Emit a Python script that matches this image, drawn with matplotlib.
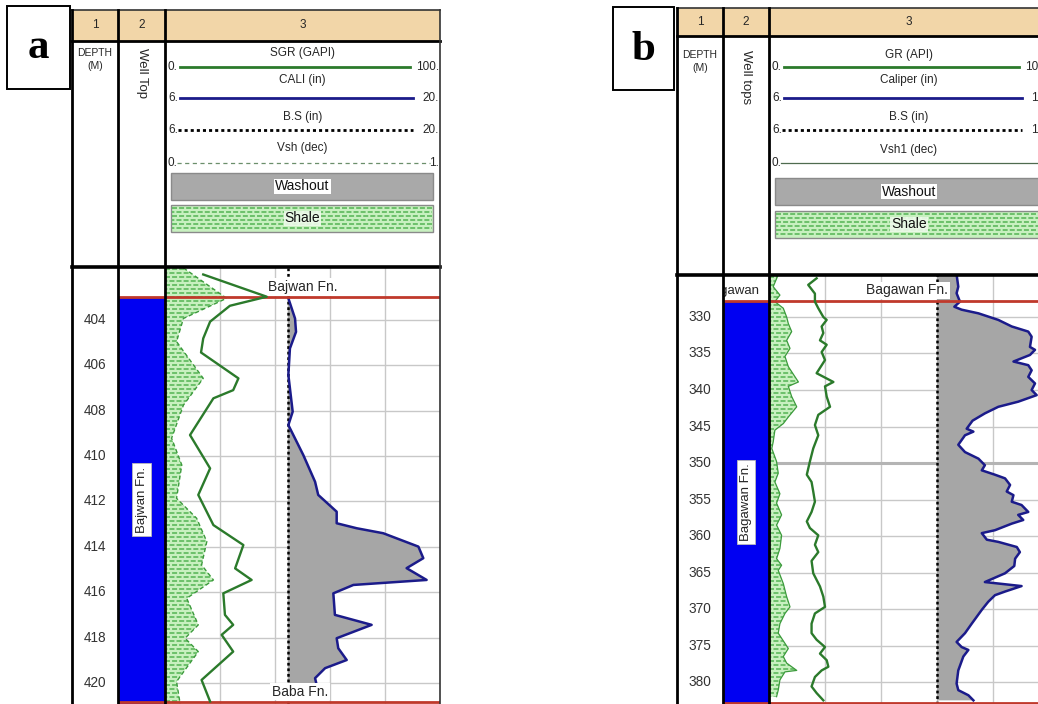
import matplotlib
matplotlib.use("Agg")
import matplotlib.pyplot as plt
from matplotlib.patches import Rectangle
import numpy as np

plt.rcParams['font.family'] = ['Liberation Sans', 'DejaVu Sans']
plt.rcParams['lines.scale_dashes'] = False

# ---------------- well a : Bajwan Fn. ----------------
a_depth_ticks = [404, 406, 408, 410, 412, 414, 416, 418, 420]
a_top_names = ["Bajwan Fn.", "Baba Fn."]
a_top_depths = [403.0, 420.85]
a_bit_size = 12.25

a_gr_depth = [401.99, 402.97, 403.37, 404.07, 404.81, 405.43, 406.57, 407.09, 407.45,
              409.07, 410.54, 411.71, 413.04, 413.92, 414.95, 415.46, 416.05, 417.0,
              417.44, 417.88, 418.62, 419.87, 420.82]
a_gr = [13.9, 37.0, 23.6, 16.4, 13.9, 13.1, 26.7, 24.8, 17.6, 9.1, 16.4, 12.1, 17.6,
        28.5, 25.5, 31.5, 21.2, 21.8, 24.8, 20.6, 24.8, 13.3, 16.4]

a_vsh_depth = [401.7, 403.04, 403.93, 404.95, 406.57, 407.75, 409.21, 410.39, 411.86,
               412.74, 413.77, 414.80, 415.46, 416.27, 417.44, 418.03, 418.62, 419.94,
               420.92]
a_vsh = [0.067, 0.224, 0.067, 0.042, 0.139, 0.067, 0.024, 0.061, 0.042, 0.115, 0.152,
         0.133, 0.176, 0.079, 0.121, 0.073, 0.121, 0.042, 0.055]

a_cal_depth = [403.04, 403.93, 404.52, 405.25, 406.42, 408.04, 408.63, 409.95, 411.13,
               411.71, 412.45, 412.96, 413.18, 413.40, 413.99, 414.50, 414.94, 415.46,
               415.68, 416.05, 417.0, 417.44, 418.03, 418.47, 418.99, 419.35, 419.79,
               420.09]
a_cal = [12.28, 12.62, 12.67, 12.36, 12.28, 12.50, 12.28, 13.04, 13.64, 13.80, 14.74,
         14.74, 15.76, 17.11, 18.90, 19.15, 18.30, 19.32, 15.59, 14.57, 14.65, 16.52,
         14.74, 14.82, 15.25, 14.15, 13.64, 13.72]

# ---------------- well b : Bagawan Fn. ----------------
b_depth_ticks = [330, 335, 340, 345, 350, 355, 360, 365, 370, 375, 380]
b_top_names = ["Bagawan Fn.", ""]
b_top_depths = [327.8, 382.9]
b_bit_size = 12.0

b_gr_depth = [324.7, 325.6, 326.8, 327.9, 328.8, 330.0, 330.4, 331.3, 332.2, 333.2,
              333.8, 334.8, 335.9, 337.7, 338.9, 339.5, 340.9, 342.3, 343.4, 344.8,
              346.2, 348.0, 349.8, 351.6, 352.6, 353.9, 355.3, 356.7, 358.0, 358.9,
              359.9, 361.2, 362.2, 363.4, 365.1, 366.9, 368.3, 369.7, 370.6, 372.0,
              373.3, 374.2, 375.2, 376.1, 377.0, 377.9, 378.4, 379.3, 380.6, 381.5,
              382.5]
b_gr = [17.0, 14.0, 16.4, 16.4, 17.6, 19.4, 20.6, 18.8, 19.4, 18.2, 20.6, 18.8, 20.0,
        17.0, 23.0, 20.0, 20.6, 21.8, 17.6, 16.4, 17.6, 15.8, 14.6, 13.5, 15.2, 15.8,
        16.4, 15.2, 13.5, 14.6, 17.6, 16.4, 17.6, 15.2, 15.8, 18.2, 19.4, 20.0, 16.4,
        15.2, 15.2, 17.0, 20.0, 18.2, 20.6, 21.2, 18.8, 16.4, 15.2, 17.0, 19.4]

b_vsh_depth = [324.2, 325.85, 327.0, 327.9, 328.8, 330.0, 330.9, 332.0, 333.2, 334.3,
               335.4, 336.8, 338.9, 339.5, 340.9, 342.3, 343.7, 344.6, 345.5, 347.1,
               348.0, 349.8, 351.4, 352.6, 354.2, 355.5, 357.1, 358.5, 359.9, 361.7,
               363.1, 364.0, 364.7, 366.5, 368.3, 369.7, 370.6, 372.0, 373.3, 375.4,
               376.5, 377.4, 378.4, 378.6, 379.7, 381.1, 382.0]
b_vsh = [0.033, 0.015, 0.039, 0.021, 0.051, 0.063, 0.069, 0.081, 0.063, 0.075, 0.057,
         0.069, 0.105, 0.069, 0.081, 0.099, 0.069, 0.051, 0.021, 0.015, 0.010, 0.027,
         0.033, 0.021, 0.039, 0.027, 0.045, 0.027, 0.045, 0.039, 0.027, 0.045, 0.033,
         0.051, 0.063, 0.075, 0.057, 0.039, 0.033, 0.069, 0.051, 0.063, 0.099, 0.057,
         0.039, 0.033, 0.027]

b_cal_depth = [324.2, 325.85, 326.75, 327.9, 328.6, 329.0, 329.5, 330.4, 331.3, 332.0,
               332.7, 334.1, 334.5, 335.2, 336.1, 336.6, 337.3, 338.2, 339.1, 340.0,
               340.7, 341.6, 342.3, 343.2, 344.2, 345.3, 345.7, 346.2, 347.5, 348.5,
               349.4, 350.3, 351.0, 351.6, 352.1, 353.0, 353.9, 354.4, 355.3, 355.75,
               356.7, 357.1, 357.8, 358.3, 359.2, 359.6, 360.5, 360.8, 361.5, 362.2,
               363.1, 364.1, 365.1, 366.3, 366.5, 366.85, 367.6, 368.1, 369.0, 370.1,
               372.0, 373.3, 374.5, 375.2, 375.6, 376.5, 378.4, 380.2, 381.1, 381.8,
               382.5]
b_cal = [12.70, 12.76, 12.70, 12.82, 12.62, 12.88, 13.48, 14.19, 14.67, 15.26, 15.38,
         15.32, 15.50, 15.32, 14.73, 15.26, 15.38, 15.26, 15.50, 15.38, 15.56, 14.90,
         14.19, 13.71, 13.27, 13.06, 13.30, 13.00, 12.76, 13.00, 13.48, 13.71, 13.60,
         14.07, 14.43, 14.61, 14.49, 14.73, 14.67, 15.02, 15.26, 14.90, 15.08, 14.67,
         14.07, 13.60, 13.78, 14.19, 14.85, 14.96, 14.79, 14.76, 14.43, 13.71, 14.19,
         15.02, 14.43, 14.07, 13.83, 13.60, 13.24, 13.00, 12.70, 12.88, 13.12, 12.94,
         12.76, 12.70, 12.76, 13.12, 13.30]

# ---------------- styling ----------------
TAN = '#f2d6a8'
GR_COL = '#2b7a2b'
CAL_COL = '#1b1b8a'
WASH_GREY = '#a9a9a9'
SHALE_BG = '#c8f0c0'
SHALE_DASH = '#5cb85c'
TOP_BLUE = '#0000f2'
TOP_RED = '#c0392b'
GRID = '#c8c8c8'
HDR_FONT = ['Liberation Sans', 'DejaVu Sans']
TXT = '#262626'

W, H = 1038, 704
fig = plt.figure(figsize=(W / 100, H / 100), dpi=100)

ov = fig.add_axes([0, 0, 1, 1], zorder=20)
ov.set_xlim(0, W)
ov.set_ylim(H, 0)
ov.axis('off')


def px_rect(x0, y0, x1, y1):
    return [x0 / W, 1 - y1 / H, (x1 - x0) / W, (y1 - y0) / H]


def bare_axes(rect, zorder, sharey=None):
    ax = fig.add_axes(rect, zorder=zorder, sharey=sharey)
    ax.patch.set_visible(False)
    for s in ax.spines.values():
        s.set_visible(False)
    ax.tick_params(left=False, bottom=False, labelleft=False, labelbottom=False)
    return ax


def shale_rows(ax, x0, x1, y_top, y_bot, step, clip=None):
    """Brick-like rows of short dashes used for the shale fill."""
    for i, y in enumerate(np.arange(y_top + step / 2, y_bot, step)):
        ln, = ax.plot([x0, x1], [y, y], color=SHALE_DASH, lw=1.2,
                      solid_capstyle='butt',
                      linestyle=((1.9 if i % 2 else 0.0), (3.6, 1.5)))
        if clip is not None:
            ln.set_clip_path(*clip)


def header(L):
    x0, c1, c2, x1 = L['x0'], L['c1'], L['c2'], L['x1']
    top, tan, hbot, lbot = L['top'], L['tan'], L['hbot'], L['lbot']
    # panel letter
    bx0, by0, bx1, by1 = L['box']
    ov.add_patch(Rectangle((bx0, by0), bx1 - bx0, by1 - by0, fc='white', ec='black', lw=1.4))
    ov.text((bx0 + bx1) / 2, (by0 + by1) / 2 + 1, L['letter'], ha='center', va='center',
            fontsize=31, fontweight='bold', family=['Liberation Serif', 'DejaVu Serif'])
    # number row
    ov.add_patch(Rectangle((x0, top), x1 - x0, tan - top, fc=TAN, ec='none'))
    ymid = (top + tan) / 2
    for txt, (u, v) in zip(['1', '2', '3'], [(x0, c1), (c1, c2), (c2, x1)]):
        ov.text((u + v) / 2, ymid, txt, ha='center', va='center', fontsize=8.5,
                family=HDR_FONT, color=TXT)
    # frame
    ov.plot([x0, x1], [top, top], color='#333333', lw=1.2)
    ov.plot([x0, x1], [tan, tan], color='black', lw=2.0)
    ov.plot([x0, x1], [hbot, hbot], color='black', lw=2.6)
    for x in (x0, c1, c2):
        ov.plot([x, x], [top, lbot], color='black', lw=2.0)
    ov.plot([x1, x1], [top, lbot], color='#333333', lw=1.2)
    # column titles
    ov.text((x0 + c1) / 2, L['rows'][0], 'DEPTH', ha='center', va='center',
            fontsize=7.5, family=HDR_FONT, color=TXT)
    ov.text((x0 + c1) / 2, L['rows'][0] + 13, '(M)', ha='center', va='center',
            fontsize=7.5, family=HDR_FONT, color=TXT)
    ov.text((c1 + c2) / 2, L['rows'][0] - 5, L['tops_title'], ha='center', va='top',
            rotation=-90, fontsize=9.5, family=HDR_FONT, color=TXT)
    # curve legend
    xc = (c2 + x1) / 2
    styles = [dict(color=GR_COL, lw=2.0, ls='-'),
              dict(color=CAL_COL, lw=2.0, ls='-'),
              dict(color='black', lw=2.0, ls=(0, (2.2, 2.2))),
              L['vsh_legend']]
    ends = [(c2 + 15, x1 - 30), (c2 + 15, x1 - 27), (c2 + 13, x1 - 27), (c2 + 12, x1 - 10)]
    for name, (lo, hi), st, (u, v), yn, yl in zip(L['curves'], L['ranges'], styles, ends,
                                                   L['rows'], L['lines']):
        ov.text(xc, yn, name, ha='center', va='center', fontsize=8.5,
                family=HDR_FONT, color=TXT)
        ov.plot([u, v], [yl, yl], **st)
        ov.text(c2 + 3, yl, lo, ha='left', va='center', fontsize=8.5, family=HDR_FONT,
                color=TXT)
        ov.text(x1 - 1, yl, hi, ha='right', va='center', fontsize=8.5, family=HDR_FONT,
                color=TXT)
    wy0, wy1 = L['washout']
    ov.add_patch(Rectangle((c2 + 6, wy0), x1 - c2 - 13, wy1 - wy0, fc=WASH_GREY,
                           ec='#8a8a8a', lw=1))
    ov.text(xc, (wy0 + wy1) / 2, 'Washout', ha='center', va='center', fontsize=10,
            family=HDR_FONT, color='#111111',
            bbox=dict(fc='white', ec='none', pad=0.6))
    sy0, sy1 = L['shale']
    ov.add_patch(Rectangle((c2 + 6, sy0), x1 - c2 - 13, sy1 - sy0, fc=SHALE_BG,
                           ec='#8a8a8a', lw=1))
    shale_rows(ov, c2 + 7, x1 - 8, sy0 + 1, sy1 - 1, 4.0)
    ov.text(xc, (sy0 + sy1) / 2, 'Shale', ha='center', va='center', fontsize=10,
            family=HDR_FONT, color='#111111',
            bbox=dict(fc='#eefaeb', ec='none', pad=0.6, alpha=0.9))


def log_area(L, ylim, depth_ticks, top_names, top_depths, gr_d, gr, vsh_d, vsh,
             cal_d, cal, bit_size, cal_range, vsh_edge, major_depth=None):
    x0, c1, c2, x1 = L['x0'], L['c1'], L['c2'], L['x1']
    hbot, lbot = L['hbot'], L['lbot']
    ybot, ytop = ylim

    # depth column
    ax_d = bare_axes(px_rect(x0, hbot, c1, lbot), 5)
    ax_d.set_ylim(ybot, ytop)
    for d in depth_ticks:
        ax_d.text(0.5, d, str(d), transform=ax_d.get_yaxis_transform(), ha='center',
                  va='center', fontsize=9.8, color='#333333')

    # well tops column
    ax_t = bare_axes(px_rect(c1, hbot, c2, lbot), 5, sharey=ax_d)
    ax_t.set_xlim(0, 1)
    ax_t.axhspan(top_depths[0], ybot, color=TOP_BLUE, lw=0)
    for d in top_depths:
        ax_t.axhline(d, color=TOP_RED, lw=2.0)
    mid = (top_depths[0] + top_depths[1]) / 2
    ax_t.text(0.5, mid, top_names[0], rotation=90, ha='center', va='center',
              fontsize=9.5, color=TXT,
              bbox=dict(fc='white', ec='#bbbbbb', lw=0.6, pad=2.5))
    if L.get('prev_top'):
        ax_t.annotate(L['prev_top'], (0.8, top_depths[0]), xytext=(0, 3),
                      textcoords='offset points', ha='right', va='bottom',
                      fontsize=9.5, color=TXT, annotation_clip=False,
                      clip_on=True)

    # track 3: grid, shale volume, caliper, gamma ray
    rect = px_rect(c2, hbot, x1, lbot)
    ax_g = fig.add_axes(rect, zorder=5, sharey=ax_d)
    ax_g.set_xlim(0, 100)
    ax_g.set_xticks([20, 40, 60, 80])
    ax_g.set_yticks(depth_ticks)
    ax_g.grid(True, color=GRID, lw=1.0)
    for s in ax_g.spines.values():
        s.set_visible(False)
    ax_g.tick_params(length=0, labelleft=False, labelbottom=False)
    if major_depth is not None:
        ax_g.axhline(major_depth, color='#b4b4b4', lw=2.2)

    ax_v = bare_axes(rect, 6, sharey=ax_d)
    ax_v.set_xlim(0, 1)
    poly = ax_v.fill_betweenx(vsh_d, 0, vsh, facecolor=SHALE_BG, edgecolor='none')
    shale_rows(ax_v, 0, 1, ytop, ybot, (ybot - ytop) * 4.0 / (lbot - hbot),
               clip=(poly.get_paths()[0], poly.get_transform()))
    ax_v.plot(vsh, vsh_d, **vsh_edge)

    ax_c = bare_axes(rect, 7, sharey=ax_d)
    ax_c.set_xlim(*cal_range)
    cal_arr = np.asarray(cal)
    ax_c.fill_betweenx(cal_d, bit_size, cal_arr, where=cal_arr >= bit_size,
                       interpolate=True, facecolor='#a6a6a6', edgecolor='none')
    ax_c.axvline(bit_size, color='black', lw=1.8, ls=(0, (2.0, 2.0)))
    ax_c.plot(cal, cal_d, color=CAL_COL, lw=1.8)
    for name, d, (xf, ha) in zip(top_names, top_depths, L['top_label_pos']):
        if name:
            ax_c.annotate(name, (xf, d), xycoords=('axes fraction', 'data'),
                          xytext=(0, 2.5), textcoords='offset points', ha=ha,
                          va='bottom', fontsize=10, color=TXT,
                          bbox=dict(fc='white', ec='none', pad=1.2))

    ax_r = bare_axes(rect, 8, sharey=ax_d)
    ax_r.set_xlim(0, 100)
    for d in top_depths:
        ax_r.axhline(d, color=TOP_RED, lw=2.0)
    ax_r.plot(gr, gr_d, color=GR_COL, lw=1.7)

    ax_d.set_ylim(ybot, ytop)


LAY_A = dict(box=(7, 6, 70, 89), letter='a', x0=72, c1=118, c2=165, x1=440,
             top=10, tan=41, hbot=267, lbot=704,
             rows=[53, 80, 117, 148], lines=[67, 98, 130, 163],
             washout=(173, 200), shale=(205, 232), tops_title='Well Top',
             curves=['SGR (GAPI)', 'CALI (in)', 'B.S (in)', 'Vsh (dec)'],
             ranges=[('0.', '100.'), ('6.', '20.'), ('6.', '20.'), ('0.', '1.')],
             vsh_legend=dict(color='#6b8f6b', lw=0.9, ls=(0, (3.0, 2.5))),
             top_label_pos=[(0.5, 'center'), (0.49, 'center')])
LAY_B = dict(box=(613, 7, 674, 90), letter='b', x0=677, c1=723, c2=769, x1=1049,
             top=8, tan=36, hbot=275, lbot=704,
             rows=[55, 80, 117, 150], lines=[67, 98, 130, 163],
             washout=(178, 205), shale=(211, 238), tops_title='Well tops',
             curves=['GR (API)', 'Caliper (in)', 'B.S (in)', 'Vsh1 (dec)'],
             ranges=[('0.', '100.'), ('6.', '16.'), ('6.', '16.'), ('0.', '1.')],
             vsh_legend=dict(color='#4f6b4f', lw=0.9, ls='-'),
             top_label_pos=[(0.64, 'right'), (0.5, 'center')],
             prev_top='Bagawan')

header(LAY_A)
header(LAY_B)

log_area(LAY_A, (420.93, 401.66), a_depth_ticks, a_top_names, a_top_depths,
         a_gr_depth, a_gr, a_vsh_depth, a_vsh, a_cal_depth, a_cal, a_bit_size,
         (6, 20), dict(color='#3c9a3c', lw=1.0, ls=(0, (3.0, 2.0))))
log_area(LAY_B, (383.0, 324.25), b_depth_ticks, b_top_names, b_top_depths,
         b_gr_depth, b_gr, b_vsh_depth, b_vsh, b_cal_depth, b_cal, b_bit_size,
         (6, 16), dict(color='#3c9a3c', lw=0.9, ls='-'), major_depth=350)

fig.savefig('out.png', dpi=100)
